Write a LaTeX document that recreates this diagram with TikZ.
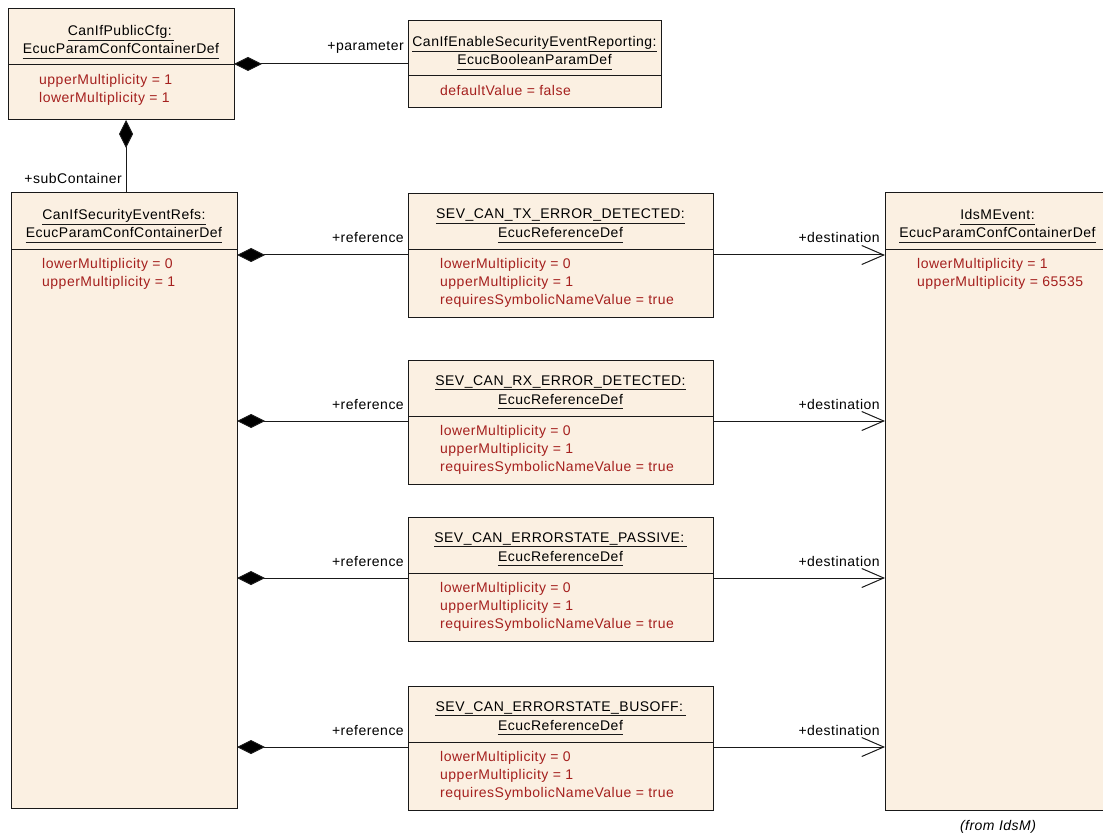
\documentclass[tikz,border=0pt]{standalone}
\usepackage{fontspec}
\setmainfont{Liberation Sans}[LetterSpace=3.5]
\usetikzlibrary{arrows.meta}
\definecolor{boxfill}{RGB}{251,240,226}
\definecolor{attrred}{RGB}{165,32,30}
\definecolor{edgecol}{RGB}{25,25,25}
\newcommand\fs{\fontsize{14}{16}\selectfont}
\newcommand\umlbox[6]{%
  \node[umlbox, minimum width={(#4-#2)*1pt}, minimum height={(#5-#3)*1pt}, anchor=north west] (#1) at (#2,#3) {};
  \coordinate (#1sep) at (0,#6);
  \draw[edgecol, line width=1pt] (#1.west |- #1sep) -- (#1.east |- #1sep);}
\newcommand\ttl[4]{%
  \node[ttltext] (#1) at (#2,#3) {#4};
  \draw[line width=0.9pt, edgecol] ([yshift=-4pt]#1.base west) -- ([yshift=-4pt]#1.base east);}
\newcommand\attr[4]{\node[attrtext] (#1) at (#2,#3) {#4};}
\begin{document}
\begin{tikzpicture}[x=1pt, y=-1pt,
  umlbox/.style={draw=edgecol, fill=boxfill, line width=1pt, inner sep=0pt, outer sep=0pt},
  ttltext/.style={anchor=base, inner sep=0pt, font=\fs, text=black},
  attrtext/.style={anchor=base west, inner sep=0pt, font=\fs, text=attrred},
  lbl/.style={anchor=base east, inner sep=0pt, font=\fs, text=black},
  comp/.style={draw=edgecol, line width=1pt, {Diamond[length=28pt,width=14pt,fill=black]}-},
  dest/.style={draw=edgecol, line width=1pt, -{Straight Barb[length=22pt,width=19pt]}}]
\useasboundingbox (0,0) rectangle (1103,834);

% A: CanIfPublicCfg
\umlbox{A}{8}{9}{234}{120}{65}
\ttl{At1}{121}{36}{CanIfPublicCfg:\,}
\ttl{At2}{121}{54}{EcucParamConfContainerDef}
\attr{Aa1}{39}{85}{upperMultiplicity = 1}
\attr{Aa2}{39}{103}{lowerMultiplicity = 1}

% B: CanIfEnableSecurityEventReporting
\umlbox{B}{408}{21}{661}{108}{76}
\ttl{Bt1}{534.5}{47}{CanIfEnableSecurityEventReporting:}
\ttl{Bt2}{534.5}{65}{EcucBooleanParamDef}
\attr{Ba1}{440}{96}{defaultValue = false}

% C: CanIfSecurityEventRefs
\umlbox{C}{11}{193}{237}{808}{250}
\ttl{Ct1}{124}{220}{CanIfSecurityEventRefs:}
\ttl{Ct2}{124}{238}{EcucParamConfContainerDef}
\attr{Ca1}{42}{269}{lowerMultiplicity = 0}
\attr{Ca2}{42}{287}{upperMultiplicity = 1}

% E: IdsMEvent
\umlbox{E}{885}{193}{1110}{810}{250}
\ttl{Et1}{997.5}{220}{IdsMEvent:}
\ttl{Et2}{997.5}{238}{EcucParamConfContainerDef}
\attr{Ea1}{917}{269}{lowerMultiplicity = 1}
\attr{Ea2}{917}{287}{upperMultiplicity = 65535}
\node[anchor=base, inner sep=0pt, font=\fs\itshape, text=black] (from) at (998,830) {(from IdsM)};

% D boxes
\umlbox{Da}{408}{194}{713}{318}{250}
\ttl{Dat1}{560.5}{219}{SEV\_CAN\_TX\_ERROR\_DETECTED:}
\ttl{Dat2}{560.5}{238}{EcucReferenceDef}
\attr{Daa1}{440}{269}{lowerMultiplicity = 0}
\attr{Daa2}{440}{287}{upperMultiplicity = 1}
\attr{Daa3}{440}{305}{requiresSymbolicNameValue = true}

\umlbox{Db}{408}{360}{713}{484}{416}
\ttl{Dbt1}{560.5}{385}{SEV\_CAN\_RX\_ERROR\_DETECTED:}
\ttl{Dbt2}{560.5}{404}{EcucReferenceDef}
\attr{Dba1}{440}{435}{lowerMultiplicity = 0}
\attr{Dba2}{440}{453}{upperMultiplicity = 1}
\attr{Dba3}{440}{471}{requiresSymbolicNameValue = true}

\umlbox{Dc}{408}{517}{713}{641}{573}
\ttl{Dct1}{560.5}{542}{SEV\_CAN\_ERRORSTATE\_PASSIVE:\,}
\ttl{Dct2}{560.5}{561}{EcucReferenceDef}
\attr{Dca1}{440}{592}{lowerMultiplicity = 0}
\attr{Dca2}{440}{610}{upperMultiplicity = 1}
\attr{Dca3}{440}{628}{requiresSymbolicNameValue = true}

\umlbox{Dd}{408}{686}{713}{810}{742}
\ttl{Ddt1}{560.5}{711}{SEV\_CAN\_ERRORSTATE\_BUSOFF:\,}
\ttl{Ddt2}{560.5}{730}{EcucReferenceDef}
\attr{Dda1}{440}{761}{lowerMultiplicity = 0}
\attr{Dda2}{440}{779}{upperMultiplicity = 1}
\attr{Dda3}{440}{797}{requiresSymbolicNameValue = true}

% connectors
\coordinate (rAB) at (0,64);
\coordinate (xAC) at (126,0);
\coordinate (ra) at (0,255);
\coordinate (rb) at (0,421);
\coordinate (rc) at (0,578);
\coordinate (rd) at (0,747);

\draw[comp] (A.east |- rAB) -- (B.west |- rAB);
\draw[comp] (A.south -| xAC) -- (C.north -| xAC);
\foreach \d/\r in {Da/ra, Db/rb, Dc/rc, Dd/rd}{
  \draw[comp] (C.east |- \r) -- (\d.west |- \r);
  \draw[dest] (\d.east |- \r) -- (E.west |- \r);
}

% labels
\node[lbl] (lpar) at (404,51) {+parameter};
\node[lbl] (lsub) at (122,184) {+subContainer};
\node[lbl] (lra) at (404,243) {+reference};
\node[lbl] (lrb) at (404,409) {+reference};
\node[lbl] (lrc) at (404,566) {+reference};
\node[lbl] (lrd) at (404,735) {+reference};
\node[lbl] (lda) at (880,243) {+destination};
\node[lbl] (ldb) at (880,409) {+destination};
\node[lbl] (ldc) at (880,566) {+destination};
\node[lbl] (ldd) at (880,735) {+destination};
\end{tikzpicture}
\end{document}
